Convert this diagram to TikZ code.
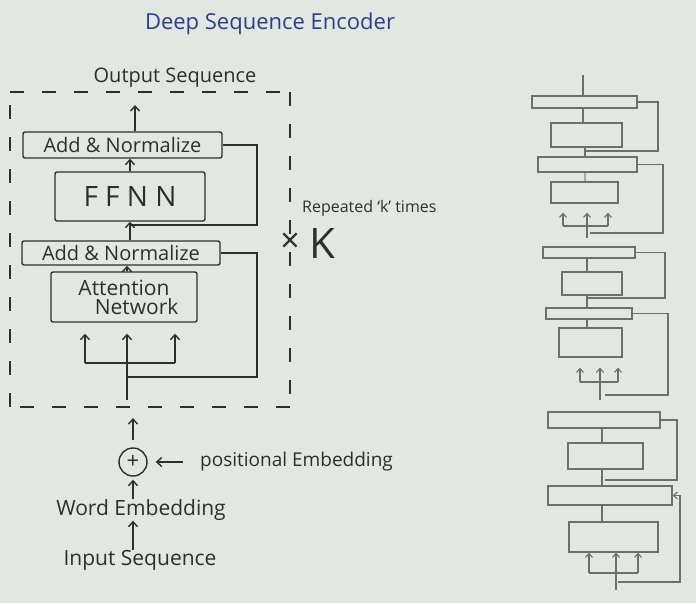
\documentclass[tikz,border=0pt]{standalone}
\usepackage{fontspec}
\setmainfont{Open Sans}
\usetikzlibrary{arrows.meta}
\definecolor{paper}{HTML}{E3E7E1}
\definecolor{ink}{HTML}{2E2E30}
\definecolor{pencil}{HTML}{6E6E6E}
\definecolor{blueink}{HTML}{2C3C8E}

\begin{document}
\begin{tikzpicture}[x=1pt,y=-1pt,
  inkline/.style={draw=ink, line width=1.4pt},
  dashline/.style={inkline, dash pattern=on 14pt off 18pt},
  box/.style={inkline, rectangle, rounded corners=2pt, inner sep=0pt, text=ink},
  arr/.style={inkline, -{Straight Barb[length=5pt,width=9pt]}},
  lbl/.style={text=ink, inner sep=0pt},
  pbox/.style={draw=pencil, line width=1.3pt, rectangle, inner sep=0pt},
  pline/.style={draw=pencil, line width=1.1pt},
  parr/.style={pline, -{Straight Barb[length=4pt,width=7pt]}},
]
% paper
\fill[paper] (0,0) rectangle (696,603);
\useasboundingbox (0,0) rectangle (696,603);

% title
\node[text=blueink, inner sep=0pt, font=\fontsize{22}{24}\selectfont] (title) at (270,24) {Deep Sequence Encoder};

% ---------------- encoder layer ----------------
\node[lbl, font=\fontsize{20}{22}\selectfont] (outseq) at (175,78) {Output Sequence};
% dashed frame, one side at a time
\draw[dashline] (10,92) -- (290,92);
\draw[dashline] (290,92) -- (290,407);
\draw[dashline] (290,407) -- (10,407);
\draw[dashline] (10,407) -- (10,92);

\node[box, minimum width=199, minimum height=26, font=\fontsize{20}{22}\selectfont] (an2) at (122.5,145) {Add \& Normalize};
\node[box, minimum width=150, minimum height=49, font=\fontsize{28}{30}\selectfont] (ffnn) at (130,196.5) {F F N N};
\node[box, minimum width=198, minimum height=24, font=\fontsize{20}{22}\selectfont] (an1) at (121,253) {Add \& Normalize};
\node[box, minimum width=146, minimum height=50, align=center, font=\fontsize{21}{19}\selectfont] (attn) at (124,297) {Attention\\\hspace*{1.2em}Network};

% main path
\coordinate (outtip) at (135,105);
\draw[arr] (an2.north -| outtip) -- (outtip);
\draw[arr] (ffnn.north) -- (ffnn.north |- an2.south);
\draw[arr] (an1.north -| ffnn) -- (ffnn.south);
\coordinate (tin) at (127,400);
\draw[arr] (attn.north -| tin) -- (an1.south -| tin);

% inputs of the attention network
\coordinate (fl) at (85,363);
\coordinate (fr) at (175,363);
\draw[inkline] (fl) -- (fr);
\draw[arr, shorten >=11pt] (fl) -- (fl |- attn.south);
\draw[arr, shorten >=11pt] (fr) -- (fr |- attn.south);
\draw[arr, shorten >=11pt] (tin) -- (tin |- attn.south);

% residual connections
\coordinate (s1) at (257,225);
\draw[inkline] (an2.east) -| (s1) -- (s1 -| ffnn.south);
\coordinate (s2) at (257,377);
\draw[inkline] (an1.east) -| (s2) -- (s2 -| tin);

% repetition
\node[lbl, anchor=west, font=\fontsize{16}{18}\selectfont] (rep) at (302,208) {Repeated ‘k’ times};
\node[lbl, font=\fontsize{34}{34}\selectfont] (times) at (290,243) {×};
\node[lbl, font=\fontsize{42}{44}\selectfont] (kk) at (322,244) {K};

% ---------------- input side ----------------
\node[inkline, circle, minimum size=28, inner sep=0pt, text=ink, font=\fontsize{22}{22}\selectfont] (plus) at (133,462) {+};
\coordinate (boxin) at (133,418);
\draw[arr, shorten <=7pt] (plus.north) -- (boxin);
\node[lbl, anchor=west, font=\fontsize{19}{21}\selectfont] (pe) at (200,462) {positional Embedding};
\draw[arr, shorten <=17pt, shorten >=8pt] (pe.west) -- (plus.east);
\node[lbl, font=\fontsize{21}{23}\selectfont] (we) at (141,510) {Word Embedding};
\draw[arr, shorten >=3pt] (we.north -| plus) -- (plus.south);
\node[lbl, font=\fontsize{21}{23}\selectfont] (is) at (140,560) {Input Sequence};
\draw[arr] (is.north -| plus) -- (we.south -| plus);

% ---------------- stacked encoder sketch ----------------
% block 1
\node[pbox, minimum width=105, minimum height=12] (a1) at (584.5,102) {};
\node[pbox, minimum width=71, minimum height=24] (b1) at (586.5,135) {};
\node[pbox, minimum width=99, minimum height=15] (c1) at (587.5,164.5) {};
\node[pbox, minimum width=67, minimum height=21] (d1) at (584.5,192.5) {};
\coordinate (t1) at (583,75);
\draw[pline] (t1) -- (t1 |- a1.north);
\draw[pline] (a1.south -| t1) -- (b1.north -| t1);
\coordinate (m1) at (585,0);
\draw[pline] (b1.south -| m1) -- (c1.north -| m1);
\draw[pline, draw opacity=0.5] (c1.south -| m1) -- (d1.north -| m1);
\coordinate (r1a) at (658,151);
\draw[pline] (a1.east) -| (r1a) -- (r1a -| m1);
\coordinate (r1b) at (663,233);
\draw[pline] (c1.east) -| (r1b) -- ++(-73,0);
\coordinate (f1l) at (563,226);
\coordinate (f1r) at (608,226);
\coordinate (f1c) at (587,238);
\draw[pline] (f1l) -- (f1r);
\draw[parr, shorten >=9pt] (f1l) -- (f1l |- d1.south);
\draw[parr, shorten >=9pt] (f1r) -- (f1r |- d1.south);
\draw[parr, shorten >=9pt] (f1c) -- (f1c |- d1.south);

% block 2
\node[pbox, minimum width=92, minimum height=11] (a2) at (589,252.5) {};
\node[pbox, minimum width=60, minimum height=23] (b2) at (592,283.5) {};
\node[pbox, minimum width=86, minimum height=11] (c2) at (589,313.5) {};
\node[pbox, minimum width=63, minimum height=29] (d2) at (590.5,342.5) {};
\coordinate (m2) at (587,0);
\draw[pline] (a2.south -| m2) -- (b2.north -| m2);
\draw[pline] (b2.south -| m2) -- (c2.north -| m2);
\draw[pline] (c2.south -| m2) -- (d2.north -| m2);
\coordinate (r2a) at (665,298);
\draw[pline] (a2.east) -| (r2a) -- (r2a -| m2);
\coordinate (r2b) at (668,395);
\draw[pline] (c2.east) -| (r2b) -- ++(-63,0);
\coordinate (f2l) at (580,382);
\coordinate (f2r) at (618,382);
\coordinate (f2c) at (600,400);
\draw[pline] (f2l) -- (f2r);
\draw[parr, shorten >=10pt] (f2l) -- (f2l |- d2.south);
\draw[parr, shorten >=10pt] (f2r) -- (f2r |- d2.south);
\draw[parr, shorten >=10pt] (f2c) -- (f2c |- d2.south);

% block 3
\node[pbox, minimum width=112, minimum height=16] (a3) at (604,420) {};
\node[pbox, minimum width=75, minimum height=26] (b3) at (605.5,456) {};
\node[pbox, minimum width=124, minimum height=19] (c3) at (610,495.5) {};
\node[pbox, minimum width=89, minimum height=30] (d3) at (613.5,537) {};
\coordinate (m3) at (602,0);
\draw[pline] (a3.south -| m3) -- (b3.north -| m3);
\draw[pline] (b3.south -| m3) -- (c3.north -| m3);
\draw[pline] (c3.south -| m3) -- (d3.north -| m3);
\coordinate (r3a) at (677,480);
\draw[pline] (a3.east) -| (r3a) -- ++(-72,0);
\coordinate (x3) at (618,582);
\coordinate (k3) at (680,582);
\draw[parr] (x3) -- (k3) -- (k3 |- c3.east) -- (c3.east);
\coordinate (f3l) at (589,573);
\coordinate (f3r) at (638,573);
\coordinate (f3c) at (616,590);
\draw[pline] (f3l) -- (f3r);
\draw[parr] (f3l) -- (f3l |- d3.south);
\draw[parr] (f3r) -- (f3r |- d3.south);
\draw[parr] (f3c) -- (f3c |- d3.south);
\end{tikzpicture}
\end{document}
